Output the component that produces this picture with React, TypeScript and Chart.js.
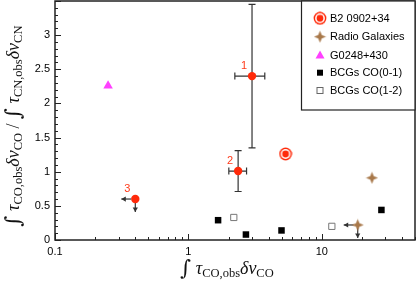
import React, { useEffect, useRef } from 'react';
import { Chart, registerables } from 'chart.js';

Chart.register(...registerables);

// ---- data ----
const numX = [3.0, 2.36, 0.40];
const numY = [2.40, 1.01, 0.60];
const numLabels = ['1', '2', '3'];
const numXLo = [2.23, 2.01, null];
const numXHi = [3.74, 2.73, null];
const numYLo = [1.35, 0.71, null];
const numYHi = [3.45, 1.31, null];
const numUpper = [false, false, true];

const b2X = [5.35];
const b2Y = [1.26];
const rgX = [23.8, 18.6];
const rgY = [0.91, 0.22];
const rgUpper = [false, true];
const gX = [0.25];
const gY = [2.26];
const bcg01X = [1.67, 2.70, 4.99, 28.0];
const bcg01Y = [0.29, 0.08, 0.14, 0.44];
const bcg12X = [2.19, 11.9];
const bcg12Y = [0.33, 0.20];

const xMajorTicks = [0.1, 1, 10];
const yMajorTicks = [0, 0.5, 1, 1.5, 2, 2.5, 3];
const legendLabels = ['B2 0902+34', 'Radio Galaxies', 'G0248+430', 'BCGs CO(0-1)', 'BCGs CO(1-2)'];

const X_MIN = 0.1;
const X_MAX = 50;
const Y_MIN = 0;
const Y_MAX = 3.5;

const RED = '#ff2a0a';
const BROWN = '#a8784a';
const MAGENTA = '#ff40ff';
const LINE = '#333';
const SANS = '"Liberation Sans", Arial, sans-serif';
const SERIF = '"Liberation Serif", "Times New Roman", serif';

const pts = (xs: number[], ys: number[]) => xs.map((v, i) => ({ x: v, y: ys[i] }));

function makeRing() {
  const c = document.createElement('canvas');
  c.width = 14; c.height = 14;
  const g = c.getContext('2d')!;
  g.fillStyle = RED;
  g.beginPath(); g.arc(7, 7, 6.4, 0, Math.PI * 2); g.fill();
  g.fillStyle = '#fff';
  g.beginPath(); g.arc(7, 7, 4.9, 0, Math.PI * 2); g.fill();
  g.fillStyle = RED;
  g.beginPath(); g.arc(7, 7, 3.4, 0, Math.PI * 2); g.fill();
  return c;
}

function makeStar() {
  const c = document.createElement('canvas');
  c.width = 13; c.height = 13;
  const g = c.getContext('2d')!;
  const m = 6.5, R = 6.0, r = 2.5;
  g.fillStyle = BROWN;
  g.beginPath();
  for (let k = 0; k < 8; k++) {
    const ang = -Math.PI / 2 + (k * Math.PI) / 4;
    const rad = k % 2 === 0 ? R : r;
    const px = m + rad * Math.cos(ang);
    const py = m + rad * Math.sin(ang);
    if (k === 0) g.moveTo(px, py); else g.lineTo(px, py);
  }
  g.closePath();
  g.fill();
  return c;
}

type Seg = { t: string; f: string; dy: number };

function mathSegs(pairs: [string, string][]): Seg[] {
  const main = `italic 18px ${SERIF}`;
  const sub = `12.5px ${SERIF}`;
  const integ = `21px "DejaVu Serif", ${SERIF}`;
  const out: Seg[] = [];
  for (const [kind, t] of pairs) {
    if (kind === 'i') out.push({ t, f: integ, dy: 1 });
    else if (kind === 'm') out.push({ t, f: main, dy: 0 });
    else if (kind === 's') out.push({ t, f: sub, dy: 3 });
    else out.push({ t, f: `18px ${SERIF}`, dy: 0 });
  }
  return out;
}

function drawSegs(ctx: CanvasRenderingContext2D, segs: Seg[]) {
  let total = 0;
  const ws = segs.map((s) => { ctx.font = s.f; const w = ctx.measureText(s.t).width; total += w; return w; });
  let cur = -total / 2;
  ctx.textAlign = 'left';
  ctx.textBaseline = 'alphabetic';
  segs.forEach((s, i) => { ctx.font = s.f; ctx.fillText(s.t, cur, s.dy); cur += ws[i]; });
}

function arrow(ctx: CanvasRenderingContext2D, x1: number, y1: number, x2: number, y2: number) {
  ctx.beginPath(); ctx.moveTo(x1, y1); ctx.lineTo(x2, y2); ctx.stroke();
  const ang = Math.atan2(y2 - y1, x2 - x1);
  const h = 4.5, w = 2.6;
  ctx.beginPath();
  ctx.moveTo(x2, y2);
  ctx.lineTo(x2 - h * Math.cos(ang) + w * Math.sin(ang), y2 - h * Math.sin(ang) - w * Math.cos(ang));
  ctx.lineTo(x2 - h * Math.cos(ang) - w * Math.sin(ang), y2 - h * Math.sin(ang) + w * Math.cos(ang));
  ctx.closePath(); ctx.fill();
}

export default function App() {
  const ref = useRef<HTMLCanvasElement>(null);
  useEffect(() => {
    const canvas = ref.current!;
    const ring = makeRing();
    const star = makeStar();

    const plugin = {
      id: 'custom',
      beforeDatasetsDraw(chart: any) {
        const { ctx, chartArea: a, scales } = chart;
        const x = scales.x, y = scales.y;
        ctx.save();
        ctx.strokeStyle = '#222';
        ctx.lineWidth = 1;
        for (let v = 0; v <= Y_MAX + 1e-9; v = Math.round((v + 0.1) * 10) / 10) {
          const py = Math.round(y.getPixelForValue(v)) + 0.5;
          const major = Math.abs(v * 2 - Math.round(v * 2)) < 1e-6;
          ctx.beginPath(); ctx.moveTo(a.left, py); ctx.lineTo(a.left + (major ? 6 : 3), py); ctx.stroke();
        }
        for (const dec of xMajorTicks) {
          for (let k = 1; k <= 9; k++) {
            const v = dec * k;
            if (v > X_MAX + 1e-9) break;
            const px = Math.round(x.getPixelForValue(v)) + 0.5;
            ctx.beginPath(); ctx.moveTo(px, a.bottom); ctx.lineTo(px, a.bottom - (k === 1 ? 6 : 3)); ctx.stroke();
          }
        }
        ctx.strokeStyle = LINE;
        ctx.fillStyle = LINE;
        ctx.lineWidth = 1.2;
        numX.forEach((vx, i) => {
          const px = x.getPixelForValue(vx), py = y.getPixelForValue(numY[i]);
          const xl = numXLo[i], xh = numXHi[i], yl = numYLo[i], yh = numYHi[i];
          if (xl != null && xh != null) {
            const p1 = x.getPixelForValue(xl), p2 = x.getPixelForValue(xh);
            ctx.beginPath();
            ctx.moveTo(p1, py); ctx.lineTo(p2, py);
            ctx.moveTo(p1, py - 3.5); ctx.lineTo(p1, py + 3.5);
            ctx.moveTo(p2, py - 3.5); ctx.lineTo(p2, py + 3.5);
            ctx.stroke();
          }
          if (yl != null && yh != null) {
            const p1 = y.getPixelForValue(yl), p2 = y.getPixelForValue(yh);
            ctx.beginPath();
            ctx.moveTo(px, p1); ctx.lineTo(px, p2);
            ctx.moveTo(px - 3.5, p1); ctx.lineTo(px + 3.5, p1);
            ctx.moveTo(px - 3.5, p2); ctx.lineTo(px + 3.5, p2);
            ctx.stroke();
          }
          if (numUpper[i]) {
            arrow(ctx, px - 4, py, px - 14, py);
            arrow(ctx, px, py + 3, px, py + 13);
          }
        });
        rgX.forEach((vx, i) => {
          if (!rgUpper[i]) return;
          const px = x.getPixelForValue(vx), py = y.getPixelForValue(rgY[i]);
          arrow(ctx, px - 4, py, px - 14, py);
          arrow(ctx, px, py + 3, px, py + 13);
        });
        ctx.restore();
      },
      afterDatasetsDraw(chart: any) {
        const { ctx, chartArea: a, scales } = chart;
        const x = scales.x, y = scales.y;
        ctx.save();
        ctx.fillStyle = '#ff3a1a';
        ctx.font = `11px ${SANS}`;
        ctx.textAlign = 'center';
        ctx.textBaseline = 'middle';
        numX.forEach((vx, i) => {
          const px = x.getPixelForValue(vx), py = y.getPixelForValue(numY[i]);
          ctx.fillText(numLabels[i], px - 8, py - 10);
        });
        ctx.strokeStyle = '#222';
        ctx.lineWidth = 1.5;
        ctx.strokeRect(a.left, a.top, a.right - a.left, a.bottom - a.top);
        const lx = 301.5, ly = a.top, lw = a.right - lx, lh = 109;
        ctx.fillStyle = '#fff';
        ctx.fillRect(lx, ly, lw, lh);
        ctx.lineWidth = 1.2;
        ctx.strokeRect(lx, ly, lw, lh);
        const rows = [18.3, 36.7, 55, 72.7, 90.5];
        const mx = 320;
        ctx.font = `11px ${SANS}`;
        ctx.textAlign = 'left';
        ctx.textBaseline = 'middle';
        legendLabels.forEach((t, i) => {
          const ry = rows[i];
          if (i === 0) ctx.drawImage(ring, mx - 7, ry - 7);
          else if (i === 1) ctx.drawImage(star, mx - 6.5, ry - 6.5);
          else if (i === 2) {
            ctx.fillStyle = MAGENTA;
            ctx.beginPath(); ctx.moveTo(mx, ry - 4.5); ctx.lineTo(mx + 4.5, ry + 3.5); ctx.lineTo(mx - 4.5, ry + 3.5); ctx.closePath(); ctx.fill();
          } else if (i === 3) {
            ctx.fillStyle = '#000'; ctx.fillRect(mx - 3, ry - 3, 6, 6);
          } else {
            ctx.fillStyle = '#fff'; ctx.fillRect(mx - 3, ry - 3, 6, 6);
            ctx.strokeStyle = '#666'; ctx.lineWidth = 1; ctx.strokeRect(mx - 3, ry - 3, 6, 6);
          }
          ctx.fillStyle = '#000';
          ctx.fillText(t, 330, ry + 0.5);
        });
        ctx.fillStyle = '#111';
        ctx.save();
        ctx.translate(227, 274);
        drawSegs(ctx, mathSegs([['i', '∫'], ['r', ' '], ['m', 'τ'], ['s', 'CO,obs'], ['m', 'δv'], ['s', 'CO']]));
        ctx.restore();
        ctx.save();
        ctx.translate(19, 126);
        ctx.rotate(-Math.PI / 2);
        drawSegs(ctx, mathSegs([
          ['i', '∫'], ['r', ' '], ['m', 'τ'], ['s', 'CO,obs'], ['m', 'δv'], ['s', 'CO'],
          ['r', ' / '],
          ['i', '∫'], ['r', ' '], ['m', 'τ'], ['s', 'CN,obs'], ['m', 'δv'], ['s', 'CN'],
        ]));
        ctx.restore();
        ctx.restore();
      },
    };

    const chart = new Chart(canvas, {
      type: 'scatter',
      data: {
        datasets: [
          { label: 'numbered', data: pts(numX, numY), pointStyle: 'circle', pointRadius: 4.2, backgroundColor: RED, borderColor: RED, borderWidth: 0 },
          { label: legendLabels[0], data: pts(b2X, b2Y), pointStyle: ring as any, pointRadius: 7 },
          { label: legendLabels[1], data: pts(rgX, rgY), pointStyle: star as any, pointRadius: 6 },
          { label: legendLabels[2], data: pts(gX, gY), pointStyle: 'triangle', pointRadius: 5.5, backgroundColor: MAGENTA, borderColor: MAGENTA, borderWidth: 0 },
          { label: legendLabels[3], data: pts(bcg01X, bcg01Y), pointStyle: 'rect', pointRadius: 4.6, backgroundColor: '#000', borderColor: '#000', borderWidth: 0 },
          { label: legendLabels[4], data: pts(bcg12X, bcg12Y), pointStyle: 'rect', pointRadius: 4.4, backgroundColor: '#fff', borderColor: '#777', borderWidth: 1 },
        ],
      },
      options: {
        responsive: false,
        animation: false,
        devicePixelRatio: 1,
        layout: { autoPadding: false, padding: { left: 0, right: 1, top: 1, bottom: 0 } },
        plugins: { legend: { display: false }, tooltip: { enabled: false }, title: { display: false } },
        scales: {
          x: {
            type: 'logarithmic',
            min: X_MIN,
            max: X_MAX,
            grid: { display: false, drawTicks: false },
            border: { display: false },
            afterBuildTicks: (s: any) => { s.ticks = xMajorTicks.map((v) => ({ value: v })); },
            afterFit: (s: any) => { s.height = 44; s.paddingLeft = 0; s.paddingRight = 0; s.paddingTop = 0; s.paddingBottom = 0; },
            ticks: {
              autoSkip: false,
              maxRotation: 0,
              padding: 5,
              color: '#000',
              font: { family: SANS, size: 11 },
              callback: (v: any) => String(v),
            },
          },
          y: {
            type: 'linear',
            min: Y_MIN,
            max: Y_MAX,
            grid: { display: false, drawTicks: false },
            border: { display: false },
            afterBuildTicks: (s: any) => { s.ticks = yMajorTicks.map((v) => ({ value: v })); },
            afterFit: (s: any) => { s.width = 55; s.paddingLeft = 0; s.paddingRight = 0; s.paddingTop = 0; s.paddingBottom = 0; },
            ticks: {
              autoSkip: false,
              padding: 5,
              color: '#000',
              font: { family: SANS, size: 11 },
              callback: (v: any) => String(v),
            },
          },
        },
      },
      plugins: [plugin],
    });
    return () => chart.destroy();
  }, []);

  return (
    <div style={{ position: 'fixed', left: 0, top: 0, width: 416, height: 284, background: '#fff' }}>
      <canvas ref={ref} width={416} height={284} style={{ width: 416, height: 284, display: 'block' }} />
    </div>
  );
}
